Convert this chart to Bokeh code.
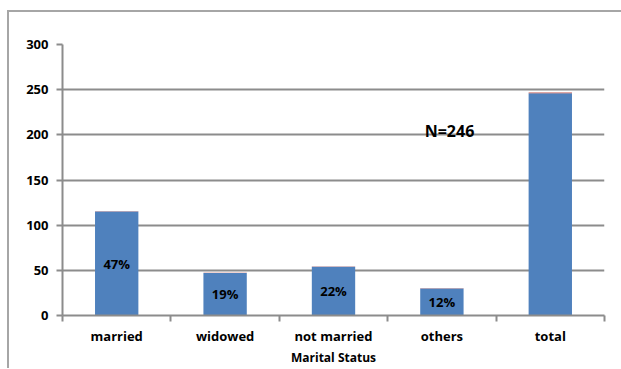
from bokeh.plotting import figure
from bokeh.models import ColumnDataSource, FixedTicker, Range1d, Label
from bokeh.core.properties import value
from bokeh.embed import file_html
from bokeh.resources import INLINE

categories = ["married", "widowed", "not married", "others", "total"]
counts = [115, 47, 54, 30, 246]
shares = [0.47, 0.19, 0.22, 0.12, 1.0]
share_labels = ["47%", "19%", "22%", "12%", ""]
y_ticks = [0, 50, 100, 150, 200, 250, 300]

FONT = "Open Sans"
GRID = "#8c8c8c"

xs = [i + 0.5 for i in range(len(categories))]
src = ColumnDataSource(dict(
    x=xs,
    count=counts,
    top=[c + s for c, s in zip(counts, shares)],
    mid=[c / 2 for c in counts],
    lab=share_labels,
))

p = figure(
    frame_width=542, frame_height=271,
    min_border_left=53, min_border_top=32, min_border_right=17, min_border_bottom=52,
    x_range=Range1d(0, len(categories)), y_range=Range1d(0, 300),
    output_backend="svg", toolbar_location=None,
)
p.margin = (10, 0, 0, 7)
p.styles = {"border-top": "2px solid #a6a6a6", "border-left": "2px solid #a6a6a6"}
p.outline_line_color = None

# stacked bars: counts with the share on top
p.vbar(x="x", bottom=0, top="count", width=0.4, source=src,
       fill_color="#4F81BD", line_color=None)
p.vbar(x="x", bottom="count", top="top", width=0.4, source=src,
       fill_color="#C0504D", line_color=None)

p.text(x="x", y="mid", text="lab", source=src,
       text_align="center", text_baseline="middle",
       text_font=value(FONT), text_font_style="bold",
       text_font_size="13px", text_color="black")

p.add_layout(Label(x=3.57, y=204, text="N=246", text_align="center",
                   text_baseline="middle", text_font=FONT,
                   text_font_style="bold", text_font_size="16px",
                   text_color="black"))

# y axis
p.yaxis.ticker = FixedTicker(ticks=y_ticks)
p.yaxis.axis_line_color = GRID
p.yaxis.axis_line_width = 2
p.yaxis.major_tick_line_color = GRID
p.yaxis.major_tick_line_width = 2
p.yaxis.major_tick_out = 6
p.yaxis.major_tick_in = 0
p.yaxis.minor_tick_line_color = None
p.yaxis.major_label_text_font = FONT
p.yaxis.major_label_text_font_style = "bold"
p.yaxis.major_label_text_font_size = "13px"
p.yaxis.major_label_text_color = "black"
p.yaxis.major_label_standoff = 8

# x axis: labels at bar centres, ticks at category boundaries
p.xaxis.ticker = FixedTicker(ticks=xs, minor_ticks=list(range(len(categories) + 1)))
p.xaxis.major_label_overrides = {x: c for x, c in zip(xs, categories)}
p.xaxis.major_tick_line_color = None
p.xaxis.minor_tick_line_color = GRID
p.xaxis.minor_tick_line_width = 2
p.xaxis.minor_tick_out = 6
p.xaxis.minor_tick_in = 0
p.xaxis.axis_line_color = GRID
p.xaxis.axis_line_width = 2
p.xaxis.major_label_text_font = FONT
p.xaxis.major_label_text_font_style = "bold"
p.xaxis.major_label_text_font_size = "13px"
p.xaxis.major_label_text_color = "black"
p.xaxis.major_label_standoff = 5
p.xaxis.axis_label = "Marital Status"
p.xaxis.axis_label_text_font = FONT
p.xaxis.axis_label_text_font_style = "bold"
p.xaxis.axis_label_text_font_size = "12px"
p.xaxis.axis_label_text_color = "black"
p.xaxis.axis_label_standoff = 1

p.xgrid.grid_line_color = None
p.ygrid.ticker = FixedTicker(ticks=y_ticks)
p.ygrid.grid_line_color = GRID
p.ygrid.grid_line_width = 2

open("out.html", "w").write(file_html(p, INLINE))
